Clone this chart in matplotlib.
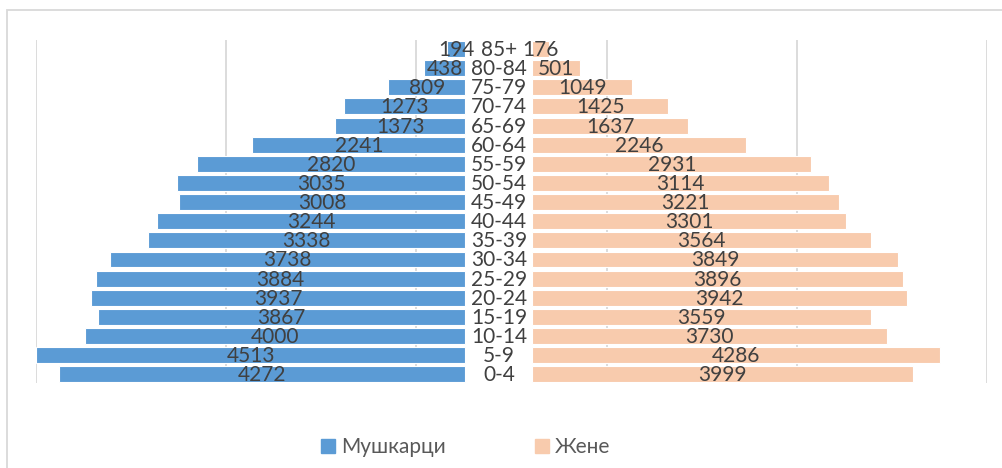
import numpy as np
import matplotlib.pyplot as plt
import matplotlib.patches as mpatches

plt.rcParams['font.family'] = ['Lato', 'Noto Sans', 'DejaVu Sans']

ages = ["0-4", "5-9", "10-14", "15-19", "20-24", "25-29", "30-34", "35-39", "40-44",
        "45-49", "50-54", "55-59", "60-64", "65-69", "70-74", "75-79", "80-84", "85+"]
male = [4272, 4513, 4000, 3867, 3937, 3884, 3738, 3338, 3244,
        3008, 3035, 2820, 2241, 1373, 1273, 809, 438, 194]
female = [3999, 4286, 3730, 3559, 3942, 3896, 3849, 3564, 3301,
          3221, 3114, 2931, 2246, 1637, 1425, 1049, 501, 176]

blue = "#5B9BD5"
peach = "#F8CBAD"
txt = "#404040"
gap = 705  # room in the middle for the age labels

W, H = 1002, 468
fig = plt.figure(figsize=(W / 100, H / 100), dpi=100)
ax = fig.add_axes([36 / W, 1 - 383 / H, (987 - 36) / W, (383 - 40) / H])

y = np.arange(len(ages))
ax.barh(y, -np.array(male), height=0.83, color=blue, edgecolor="white", linewidth=0.8, zorder=2)
ax.barh(y, female, left=gap, height=0.83, color=peach, edgecolor="white", linewidth=0.8, zorder=2)

for i in range(len(ages)):
    ax.text(-male[i] / 2, y[i] - 0.05, str(male[i]), ha="center", va="center",
            fontsize=15, color=txt, zorder=3)
    ax.text(gap + female[i] / 2, y[i] - 0.05, str(female[i]), ha="center", va="center",
            fontsize=15, color=txt, zorder=3)
    ax.text(gap / 2, y[i] - 0.05, ages[i], ha="center", va="center",
            fontsize=15, color=txt, zorder=3)

ax.set_xlim(-4515, 5485)
ax.set_ylim(-0.45, 17.47)
ax.set_xticks(np.arange(-4515, 5486, 2000))
ax.set_xticklabels([])
ax.set_yticks([])
ax.tick_params(length=0)
ax.grid(axis="x", color="#d9d9d9", linewidth=1.3, zorder=0)
for s in ax.spines.values():
    s.set_visible(False)

# chart border
fig.patches.append(mpatches.Rectangle((6.5 / W, -0.1), 1.2, 1.1 - 10.5 / H,
                                      transform=fig.transFigure, fill=False,
                                      edgecolor="#d9d9d9", linewidth=1.3))

handles = [mpatches.Patch(color=blue), mpatches.Patch(color=peach)]
fig.legend(handles, ["Мушкарци", "Жене"], loc="center", bbox_to_anchor=(466 / W, 1 - 447 / H),
           ncol=2, frameon=False, fontsize=15, labelcolor="#595959",
           handlelength=0.65, handleheight=0.65, handletextpad=0.3, columnspacing=4.3)

fig.savefig("out.png", dpi=100)
